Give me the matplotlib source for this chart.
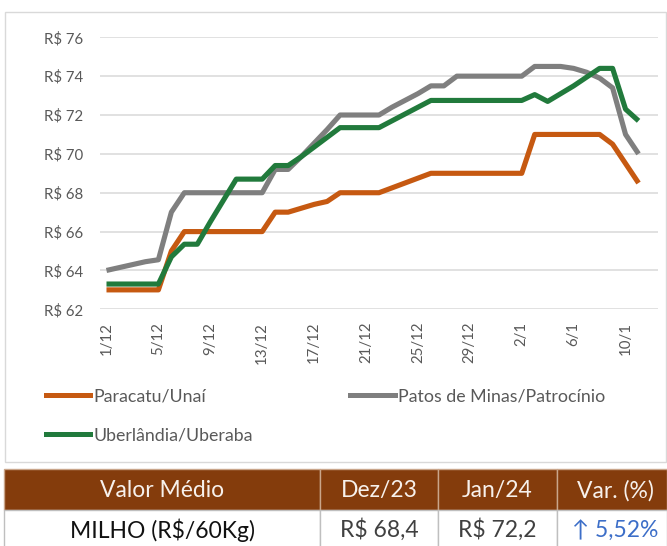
import matplotlib
matplotlib.use("Agg")
import matplotlib.pyplot as plt
from matplotlib.patches import Rectangle
from matplotlib.lines import Line2D
import numpy as np

plt.rcParams['font.family'] = ['Lato', 'DejaVu Sans']

# ---------------- data ----------------
dates = [f"{d}/12" for d in range(1, 32)] + [f"{d}/1" for d in range(1, 13)]

paracatu = [63.0, 63.0, 63.0, 63.0, 63.0, 65.0,
            66.0, 66.0, 66.0, 66.0, 66.0, 66.0, 66.0,
            67.0, 67.0, 67.2, 67.4, 67.55,
            68.0, 68.0, 68.0, 68.0, 68.25, 68.5, 68.75,
            69.0, 69.0, 69.0, 69.0, 69.0, 69.0, 69.0, 69.0,
            71.0, 71.0, 71.0, 71.0, 71.0, 71.0,
            70.5, 69.5, 68.5]

patos = [64.0, 64.15, 64.3, 64.45, 64.55, 67.0,
         68.0, 68.0, 68.0, 68.0, 68.0, 68.0, 68.0,
         69.2, 69.2, 69.85, 70.55, 71.25,
         72.0, 72.0, 72.0, 72.0, 72.4, 72.75, 73.1,
         73.5, 73.5, 74.0, 74.0, 74.0, 74.0, 74.0, 74.0,
         74.5, 74.5, 74.5, 74.4, 74.2, 73.9, 73.4, 71.0, 70.0]

uberlandia = [63.3, 63.3, 63.3, 63.3, 63.3, 64.7,
              65.35, 65.35, 66.5, 67.6, 68.7, 68.7, 68.7,
              69.4, 69.4, 69.85, 70.35, 70.85,
              71.35, 71.35, 71.35, 71.35, 71.7, 72.05, 72.4,
              72.75, 72.75, 72.75, 72.75, 72.75, 72.75, 72.75, 72.75,
              73.05, 72.7, 73.1, 73.5, 73.95, 74.4, 74.4, 72.3, 71.7]

series_names = ["Paracatu/Unaí", "Patos de Minas/Patrocínio", "Uberlândia/Uberaba"]
series_colors = ["#C65911", "#7F7F7F", "#217A3C"]

y_ticks = [62, 64, 66, 68, 70, 72, 74, 76]

table_header = ["Valor Médio", "Dez/23", "Jan/24", "Var. (%)"]
table_row = ["MILHO (R$/60Kg)", "R$ 68,4", "R$ 72,2", "↑ 5,52%"]

# ---------------- figure ----------------
W, H = 667, 546
fig = plt.figure(figsize=(W / 100, H / 100), dpi=100)

def fx(px):
    return px / W

def fy(py):
    return 1 - py / H

# chart frame
fig.patches.append(Rectangle((fx(5), fy(462)), fx(666) - fx(5), fy(11.5) - fy(462),
                             transform=fig.transFigure, facecolor="none",
                             edgecolor="#D9D9D9", lw=1.0, zorder=-1))

ax = fig.add_axes([fx(100), fy(309.3), fx(658) - fx(100), fy(37.3) - fy(309.3)])
ax.set_facecolor("none")

x = np.arange(len(paracatu))
for vals, name, col in zip([paracatu, patos, uberlandia], series_names, series_colors):
    ax.plot(x, vals, color=col, lw=3.7, label=name, solid_joinstyle="round",
            solid_capstyle="butt", zorder=3)

ax.set_xlim(-0.5, len(dates) - 0.5)
ax.set_ylim(62, 76)
ax.set_yticks(y_ticks)
ax.set_yticklabels([f"R$ {v}" for v in y_ticks])
tick_idx = list(range(0, len(dates), 4))[:11]
ax.set_xticks(tick_idx)
ax.set_xticklabels([dates[i] for i in tick_idx], rotation=90)
ax.tick_params(axis="both", length=0, colors="#595959", labelsize=10.8)
ax.tick_params(axis="y", pad=12)
ax.tick_params(axis="x", pad=9)
ax.grid(axis="y", color="#D9D9D9", lw=1.1)
ax.set_axisbelow(True)
for s in ax.spines.values():
    s.set_visible(False)

# legend
handles = [Line2D([], [], color=c, lw=3.6) for c in series_colors]
order = [0, 2, 1]
leg = fig.legend([handles[i] for i in order], [series_names[i] for i in order],
                 loc="upper left", bbox_to_anchor=(fx(46), fy(388)), ncol=2,
                 frameon=False, fontsize=12.8, handlelength=2.5, handletextpad=0.15,
                 columnspacing=5.5, labelspacing=1.3, borderpad=0, borderaxespad=0)
for t in leg.get_texts():
    t.set_color("#595959")

# table
brown = "#843C0C"
cols = [4, 320, 438, 557, 667]
top, mid, bot = 469, 510, 546
for i in range(4):
    fig.patches.append(Rectangle((fx(cols[i]), fy(mid)), fx(cols[i + 1]) - fx(cols[i]),
                                 fy(top) - fy(mid), transform=fig.transFigure,
                                 facecolor=brown, edgecolor="#C9A58A", lw=1.0, zorder=1))
    fig.patches.append(Rectangle((fx(cols[i]), fy(bot + 2)), fx(cols[i + 1]) - fx(cols[i]),
                                 fy(mid) - fy(bot + 2), transform=fig.transFigure,
                                 facecolor="white", edgecolor="#BFBFBF", lw=1.0, zorder=1))
    cx = (cols[i] + cols[i + 1]) / 2
    if i == 3:
        cx = cols[i] + 58
    fig.text(fx(cx), fy((top + mid) / 2 + 1), table_header[i], ha="center", va="center",
             color="#F7F1EC", fontsize=16.5, zorder=5)
    rc = "#111111" if i == 0 else ("#3C6EC8" if i == 3 else "#404040")
    fig.text(fx(cx), fy(530), table_row[i], ha="center", va="center", color=rc,
             fontsize=16.5, zorder=5)

fig.savefig("out.png", dpi=100)
